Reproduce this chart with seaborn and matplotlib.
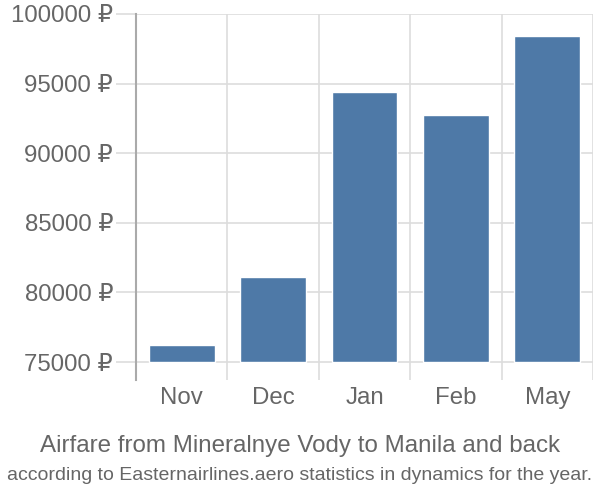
import matplotlib
matplotlib.use("Agg")
import matplotlib.pyplot as plt
import seaborn as sns
import pandas as pd
import numpy as np

months = ["Nov", "Dec", "Jan", "Feb", "May"]
prices = [76220, 81100, 94400, 92750, 98420]
yticks = [75000, 80000, 85000, 90000, 95000, 100000]
ytick_labels = [f"{v} ₽" for v in yticks]
baseline = 75000

title = "Airfare from Mineralnye Vody to Manila and back"
subtitle = "according to Easternairlines.aero statistics in dynamics for the year."

sns.set_theme(style="white")
plt.rcParams["font.family"] = ["Liberation Sans", "DejaVu Sans"]

df = pd.DataFrame({"month": months, "height": np.array(prices) - baseline})

fig = plt.figure(figsize=(6, 5), dpi=100)
ax = fig.add_axes([136 / 600, 1 - 380 / 500, (593 - 136) / 600, (380 - 14) / 500])

grid_c = "#dddddd"
text_c = "#666666"

sns.barplot(data=df, x="month", y="height", bottom=baseline, color="#4e79a7",
            saturation=1, width=0.72, ax=ax, zorder=3)

ax.set_ylim(73707, 100000)
ax.set_xlim(-0.5, len(months) - 0.5)
ax.set_yticks(yticks)
ax.set_yticklabels(ytick_labels)
ax.set_xticks(range(len(months)))
ax.set_xticklabels(months)
ax.set_xticks(np.arange(-0.5, len(months), 1.0), minor=True)

ax.grid(axis="y", which="major", color=grid_c, linewidth=1.2, zorder=0)
ax.grid(axis="x", which="minor", color=grid_c, linewidth=1.2, zorder=0)
ax.set_axisbelow(True)

ax.tick_params(axis="y", which="major", length=14.4, width=1.2, color=grid_c,
               labelsize=17.3, labelcolor=text_c, pad=2, left=True)
ax.tick_params(axis="x", which="major", length=0, labelsize=17.3, labelcolor=text_c, pad=17)
ax.tick_params(axis="x", which="minor", length=0)
for lab in ax.get_xticklabels():
    lab.set_va("baseline")

for s in ["top", "right", "bottom"]:
    ax.spines[s].set_visible(False)
ax.spines["left"].set_color("#aaaaaa")
ax.spines["left"].set_linewidth(1.5)
ax.set_xlabel("")
ax.set_ylabel("")

fig.text(0.5, 1 - 446 / 500, title, ha="center", va="center", fontsize=17.4, color=text_c)
fig.text(0.5, 1 - 475 / 500, subtitle, ha="center", va="center", fontsize=14,
         color=text_c, family=["Liberation Sans Narrow", "Liberation Sans", "DejaVu Sans"])

fig.savefig("out.png", dpi=100)
